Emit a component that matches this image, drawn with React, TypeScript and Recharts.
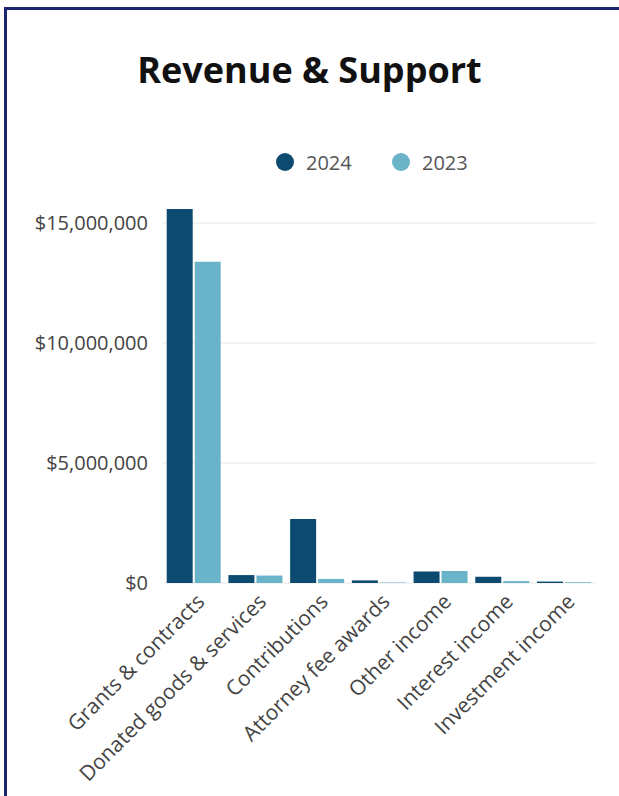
import { BarChart, Bar, XAxis, YAxis, CartesianGrid } from "recharts";

const categories = [
  "Grants & contracts",
  "Donated goods & services",
  "Contributions",
  "Attorney fee awards",
  "Other income",
  "Interest income",
  "Investment income",
];
const values2024 = [15580000, 330000, 2670000, 110000, 480000, 260000, 60000];
const values2023 = [13390000, 310000, 170000, 20000, 500000, 80000, 30000];
const yTicks = [0, 5000000, 10000000, 15000000];

const series = [
  { key: "y2024", name: "2024", color: "#0c4a6f" },
  { key: "y2023", name: "2023", color: "#69b4c8" },
];

const data = categories.map((name, i) => ({
  name,
  y2024: values2024[i],
  y2023: values2023[i],
}));

const font = "'Open Sans', 'Noto Sans', sans-serif";

const money = (v: number) => "$" + v.toLocaleString("en-US");

function XTick(props: any) {
  const { x, y, payload } = props;
  return (
    <g transform={`translate(${x + 12},${y + 12})`}>
      <text
        transform="rotate(-45)"
        textAnchor="end"
        fill="#444"
        fontSize={21}
        fontFamily={font}
      >
        {payload.value}
      </text>
    </g>
  );
}

function LegendRow() {
  return (
    <div style={{ position: "absolute", left: 0, top: 147, height: 30, fontFamily: font }}>
      {series.map((s, i) => (
        <div
          key={s.key}
          style={{
            position: "absolute",
            left: 276 + i * 116,
            top: 0,
            display: "flex",
            alignItems: "center",
            height: 30,
            whiteSpace: "nowrap",
          }}
        >
          <span
            style={{
              width: 18,
              height: 18,
              borderRadius: 9,
              background: s.color,
              display: "inline-block",
              marginRight: 12,
            }}
          />
          <span style={{ fontSize: 20, color: "#555" }}>{s.name}</span>
        </div>
      ))}
    </div>
  );
}

export default function App() {
  return (
    <div
      style={{
        position: "absolute",
        left: 0,
        top: 0,
        width: 619,
        height: 796,
        background: "#fff",
        overflow: "hidden",
      }}
    >
      <div style={{ position: "absolute", left: 4, top: 7, width: 615, height: 3, background: "#1b2570" }} />
      <div style={{ position: "absolute", left: 4, top: 7, width: 3, height: 789, background: "#1b2570" }} />
      <div
        style={{
          position: "absolute",
          left: 0,
          top: 45,
          width: 619,
          textAlign: "center",
          fontFamily: font,
          fontWeight: 700,
          fontSize: 36,
          color: "#111",
        }}
      >
        Revenue &amp; Support
      </div>
      <div style={{ position: "absolute", left: 0, top: 0 }}>
        <BarChart
          width={619}
          height={796}
          data={data}
          margin={{ top: 199, right: 24, left: 0, bottom: 0 }}
          barCategoryGap="6%"
          barGap={2}
        >
          <CartesianGrid vertical={false} horizontalValues={yTicks} stroke="#e8e8e8" />
          <XAxis
            dataKey="name"
            interval={0}
            height={213}
            axisLine={false}
            tickLine={false}
            tick={<XTick />}
          />
          <YAxis
            width={163}
            domain={[0, 16000000]}
            ticks={yTicks}
            tickFormatter={money}
            axisLine={false}
            tickLine={false}
            tickMargin={9}
            tick={{ fill: "#444", fontSize: 20, fontFamily: font }}
          />
          {series.map((s) => (
            <Bar key={s.key} dataKey={s.key} name={s.name} fill={s.color} isAnimationActive={false} />
          ))}
        </BarChart>
      </div>
      <LegendRow />
    </div>
  );
}
